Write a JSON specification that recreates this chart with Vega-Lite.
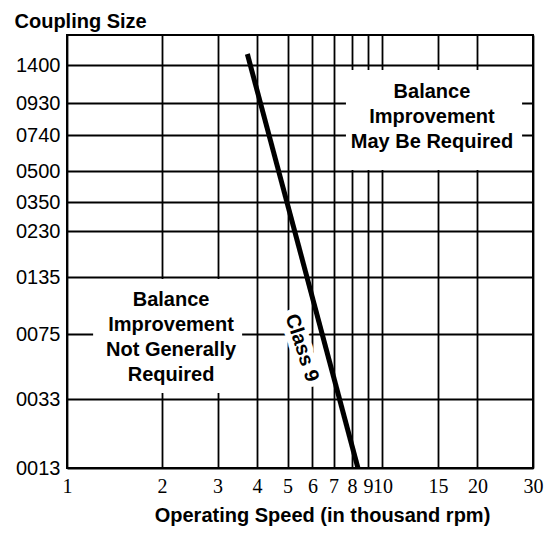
{
  "$schema": "https://vega.github.io/schema/vega-lite/v6.json",
  "width": 466,
  "height": 433,
  "autosize": {"type": "none"},
  "padding": {"left": 67, "top": 35, "right": 12, "bottom": 66},
  "background": "white",
  "config": {
    "view": {"stroke": "#000", "strokeWidth": 2},
    "font": "Liberation Sans",
    "text": {"font": "Liberation Sans"}
  },
  "datasets": {
    "boxes": [
      {"speed": 1.21, "speed_end": 3.59, "size": 36.9, "size_end": 132.9},
      {"speed": 7.66, "speed_end": 27.7, "size": 507, "size_end": 1338}
    ],
    "class9": [
      {"speed": 3.73, "size": 1536},
      {"speed": 8.36, "size": 13}
    ],
    "zones": [
      {"speed": 2.137, "size": 110.8, "label": "Balance\nImprovement\nNot Generally\nRequired"},
      {"speed": 14.35, "size": 1066, "label": "Balance\nImprovement\nMay Be Required"}
    ],
    "tag": [
      {"speed": 5.55, "size": 66, "label": "Class 9"}
    ]
  },
  "encoding": {
    "x": {
      "field": "speed",
      "type": "quantitative",
      "scale": {"type": "log", "domain": [1, 30], "nice": false},
      "axis": {
        "values": [1, 2, 3, 4, 5, 6, 7, 8, 9, 10, 15, 20, 30],
        "format": "d",
        "grid": true,
        "gridColor": "#000",
        "gridWidth": 1.8,
        "gridOpacity": 1,
        "ticks": false,
        "domain": false,
        "zindex": 0,
        "labelFont": "Liberation Sans Narrow",
        "labelFontSize": 20,
        "labelColor": "#000",
        "labelPadding": 8,
        "labelOverlap": false,
        "labelFlush": false,
        "title": "Operating Speed (in thousand rpm)",
        "titleFontSize": 20,
        "titleFontWeight": "bold",
        "titleColor": "#000",
        "titleX": 255,
        "titleY": 53,
        "titleBaseline": "alphabetic"
      }
    },
    "y": {
      "field": "size",
      "type": "quantitative",
      "scale": {
        "domain": [13, 33, 75, 135, 230, 350, 500, 740, 930, 1400, 1771],
        "range": [433, 364, 299, 242, 196, 167, 136, 100, 68, 30, 0],
        "zero": false,
        "nice": false
      },
      "axis": {
        "values": [13, 33, 75, 135, 230, 350, 500, 740, 930, 1400],
        "format": "04d",
        "grid": true,
        "gridColor": "#000",
        "gridWidth": 1.8,
        "gridOpacity": 1,
        "ticks": false,
        "domain": false,
        "zindex": 0,
        "labelFontSize": 20,
        "labelColor": "#000",
        "labelPadding": 7,
        "labelOverlap": false,
        "labelFlush": false,
        "title": "Coupling Size",
        "titleFontSize": 20,
        "titleFontWeight": "bold",
        "titleColor": "#000",
        "titleAngle": 0,
        "titleAlign": "left",
        "titleBaseline": "alphabetic",
        "titleX": -53,
        "titleY": -8
      }
    }
  },
  "layer": [
    {
      "data": {"name": "boxes"},
      "mark": {"type": "rect", "fill": "white", "opacity": 1, "fillOpacity": 1},
      "encoding": {
        "x2": {"field": "speed_end"},
        "y2": {"field": "size_end"}
      }
    },
    {
      "data": {"name": "class9"},
      "mark": {"type": "line", "color": "#000", "strokeWidth": 5, "strokeCap": "butt"},
      "encoding": {}
    },
    {
      "data": {"name": "tag"},
      "mark": {"type": "text", "angle": 72, "fontSize": 20, "fontWeight": "bold", "align": "center", "baseline": "middle", "fill": "white", "stroke": "white", "strokeWidth": 12, "strokeJoin": "round"},
      "encoding": {"text": {"field": "label"}}
    },
    {
      "data": {"name": "tag"},
      "mark": {"type": "text", "angle": 72, "fontSize": 20, "fontWeight": "bold", "align": "center", "baseline": "middle", "color": "#000"},
      "encoding": {"text": {"field": "label"}}
    },
    {
      "data": {"name": "zones"},
      "mark": {"type": "text", "fontSize": 20, "fontWeight": "bold", "align": "center", "baseline": "middle", "lineBreak": "\n", "lineHeight": 25, "color": "#000"},
      "encoding": {"text": {"field": "label"}}
    }
  ]
}
